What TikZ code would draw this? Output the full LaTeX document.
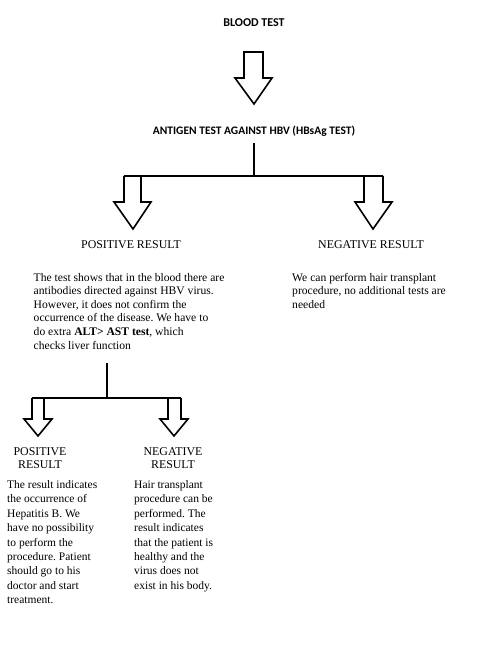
\documentclass[tikz,border=0pt]{standalone}
\usepackage{fontspec}
\setmainfont{Liberation Serif}
\newfontfamily\calib{Carlito}
\frenchspacing
\begin{document}
\begin{tikzpicture}[x=1pt,y=-1pt,
  blockarrow/.style={draw=black,line width=1.6pt,line join=miter},
  conn/.style={draw=black,line width=1.6pt},
  head/.style={font=\calib\bfseries\fontsize{12}{14}\selectfont,anchor=base,inner sep=0pt},
  result/.style={font=\fontsize{11.9}{13}\selectfont,anchor=base,inner sep=0pt,align=center},
  para/.style={anchor=base west,inner sep=0pt}]
\useasboundingbox[fill=white] (0,0) rectangle (480,652);

% headings
\node[head] (blood) at (254,27) {BLOOD TEST};
\node[head,font=\calib\bfseries\fontsize{11.5}{14}\selectfont] (antigen) at (254,135) {ANTIGEN TEST AGAINST HBV (HBsAg TEST)};

% top block arrow
\draw[blockarrow,fill=white] (244,52) -- (263,52) -- (263,78) -- (272,78) -- (254,104) -- (235,78) -- (244,78) -- cycle;

% first split
\coordinate (j1) at (254,143);
\coordinate (j1b) at (254,176);
\coordinate (l1) at (124,176);
\coordinate (r1) at (383,176);
\draw[conn] (j1) -- (j1b);
\draw[blockarrow] (l1) -- (124,202) -- (114,202) -- (133,229) -- (151,202) -- (141,202) -- (141,176);
\draw[blockarrow] (364,176) -- (364,202) -- (355,202) -- (373,229) -- (392,202) -- (383,202) -- (r1);
\draw[conn] (l1) -- (r1);

\node[result] (pos1) at (131,248) {POSITIVE RESULT};
\node[result] (neg1) at (371,248) {NEGATIVE RESULT};

\node[para] (ptext) at (33.5,281) {\parbox[t]{220pt}{\fontsize{11.6}{13.6}\selectfont
The test shows that in the blood there are\\
antibodies directed against HBV virus.\\
However, it does not confirm the\\
occurrence of the disease. We have to\\
do extra \textbf{ALT> AST test}, which\\
checks liver function}};

\node[para] (ntext) at (292,281) {\parbox[t]{180pt}{\fontsize{11.6}{13.6}\selectfont
We can perform hair transplant\\
procedure, no additional tests are\\
needed}};

% second split
\coordinate (j2) at (107,363);
\coordinate (j2b) at (107,398);
\coordinate (l2) at (32,398);
\coordinate (r2) at (181,398);
\draw[conn] (j2) -- (j2b);
\draw[blockarrow] (l2) -- (32,419) -- (24,419) -- (38,436) -- (52,419) -- (44,419) -- (44,398);
\draw[blockarrow] (168,398) -- (168,419) -- (160,419) -- (174,436) -- (188,419) -- (181,419) -- (r2);
\draw[conn] (l2) -- (r2);

\node[result] (pos2) at (40,455) {\parbox[t]{80pt}{\centering\fontsize{11.9}{13.3}\selectfont POSITIVE\\RESULT}};
\node[result] (neg2) at (173,455) {\parbox[t]{80pt}{\centering\fontsize{11.9}{13.3}\selectfont NEGATIVE\\RESULT}};

\node[para] (ptext2) at (7,488.5) {\parbox[t]{120pt}{\fontsize{11.5}{14.4}\selectfont
The result indicates\\
the occurrence of\\
Hepatitis B. We\\
have no possibility\\
to perform the\\
procedure. Patient\\
should go to his\\
doctor and start\\
treatment.}};

\node[para] (ntext2) at (134,488.5) {\parbox[t]{120pt}{\fontsize{11.5}{14.4}\selectfont
Hair transplant\\
procedure can be\\
performed. The\\
result indicates\\
that the patient is\\
healthy and the\\
virus does not\\
exist in his body.}};
\end{tikzpicture}
\end{document}
